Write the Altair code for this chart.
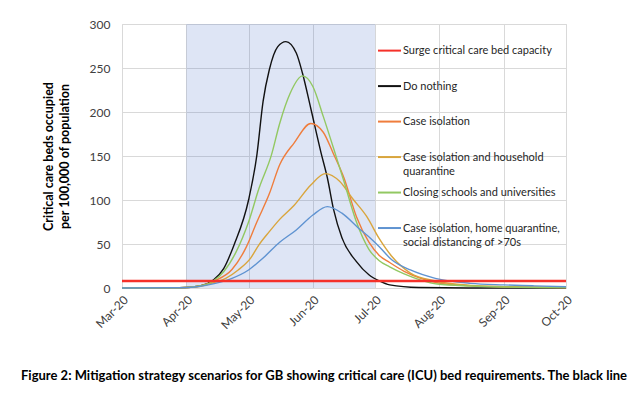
import altair as alt
import pandas as pd

# ---- series names, colours ----
series_names = [
    "Surge critical care bed capacity",
    "Do nothing",
    "Case isolation",
    "Case isolation and household quarantine",
    "Closing schools and universities",
    "Case isolation, home quarantine, social distancing of >70s",
]
legend_labels = [
    "Surge critical care bed capacity",
    "Do nothing",
    "Case isolation",
    "Case isolation and household\nquarantine",
    "Closing schools and universities",
    "Case isolation, home quarantine,\nsocial distancing of >70s",
]
legend_rank = [0, 1, 2, 3, 4, 5]
series_colors = ["#f5312a", "#111111", "#ef7d3c", "#d9a53c", "#92c862", "#5f93d1"]

# ---- data (critical care beds per 100,000) ----
surge_dates = ["2020-03-01", "2020-10-01"]
surge_vals = [8, 8]

nothing_dates = ["2020-03-01", "2020-03-25", "2020-04-01", "2020-04-08", "2020-04-14", "2020-04-19",
                 "2020-04-24", "2020-05-01", "2020-05-05", "2020-05-08", "2020-05-11", "2020-05-15",
                 "2020-05-19", "2020-05-24", "2020-05-27", "2020-05-31", "2020-06-05", "2020-06-08",
                 "2020-06-11", "2020-06-15", "2020-06-22", "2020-06-28", "2020-07-03", "2020-07-08",
                 "2020-07-22", "2020-08-15", "2020-10-01"]
nothing_vals = [0, 0.2, 0.6, 2.5, 9, 22, 49, 100, 151, 212, 248, 274, 280, 267, 244, 204, 153, 125,
                89, 57, 30, 15, 8, 3.5, 0.5, 0, 0]

caseiso_dates = ["2020-03-01", "2020-03-25", "2020-04-01", "2020-04-08", "2020-04-15", "2020-04-23",
                 "2020-04-30", "2020-05-05", "2020-05-11", "2020-05-16", "2020-05-23", "2020-05-31",
                 "2020-06-06", "2020-06-11", "2020-06-16", "2020-06-22", "2020-06-28", "2020-07-03",
                 "2020-07-08", "2020-07-15", "2020-07-23", "2020-07-31", "2020-08-16", "2020-09-01",
                 "2020-10-01"]
caseiso_vals = [0, 0.2, 0.6, 2.5, 8.5, 21, 47, 75, 107, 140, 165, 187, 177, 152, 125, 81, 52, 37,
                29, 19, 11, 6, 2.5, 1.5, 0.5]

household_dates = ["2020-03-01", "2020-03-25", "2020-04-01", "2020-04-08", "2020-04-14", "2020-04-20",
                   "2020-04-26", "2020-05-02", "2020-05-06", "2020-05-11", "2020-05-16", "2020-05-23",
                   "2020-05-31", "2020-06-07", "2020-06-14", "2020-06-20", "2020-06-27", "2020-07-03",
                   "2020-07-09", "2020-07-18", "2020-07-30", "2020-08-16", "2020-09-01", "2020-10-01"]
household_vals = [0, 0.2, 0.5, 2, 6, 11, 20.5, 34, 49, 64, 78, 94, 117, 130, 121, 102, 81, 56,
                  36, 17, 8, 3, 1.5, 0.5]

schools_dates = ["2020-03-01", "2020-03-25", "2020-04-01", "2020-04-08", "2020-04-14", "2020-04-19",
                 "2020-04-25", "2020-05-01", "2020-05-06", "2020-05-12", "2020-05-16", "2020-05-21",
                 "2020-05-27", "2020-06-01", "2020-06-06", "2020-06-12", "2020-06-16", "2020-06-22",
                 "2020-06-28", "2020-07-03", "2020-07-08", "2020-07-15", "2020-07-23", "2020-07-31",
                 "2020-08-16", "2020-09-01", "2020-10-01"]
schools_vals = [0, 0.2, 0.6, 2.5, 8, 18.5, 41, 75, 113, 151, 187, 221, 241, 229, 195, 151, 121, 75,
                44, 31, 24, 16, 9, 4.5, 2.3, 1.2, 0.5]

distancing_dates = ["2020-03-01", "2020-03-25", "2020-04-01", "2020-04-06", "2020-04-15", "2020-04-23",
                    "2020-05-01", "2020-05-08", "2020-05-16", "2020-05-24", "2020-06-01", "2020-06-08",
                    "2020-06-15", "2020-06-23", "2020-06-29", "2020-07-03", "2020-07-09", "2020-07-18",
                    "2020-07-30", "2020-08-16", "2020-09-01", "2020-09-15", "2020-10-01"]
distancing_vals = [0, 0.2, 0.6, 1.5, 5.3, 11, 20.5, 34, 52, 66, 83, 92.5, 85, 68, 56, 47, 32, 20.5,
                   11, 5.3, 3.5, 2.5, 1.5]

# shaded intervention period
shade_start = ["2020-04-01"]
shade_end = ["2020-07-01"]

month_ticks = [3, 4, 5, 6, 7, 8, 9, 10]
y_ticks = [0, 50, 100, 150, 200, 250, 300]

caption = ("Figure 2: Mitigation strategy scenarios for GB showing critical care (ICU) bed "
           "requirements. The black line")

# ---- assemble long table (surge line last so it draws on top) ----
series_data = [
    (series_names[1], nothing_dates, nothing_vals),
    (series_names[2], caseiso_dates, caseiso_vals),
    (series_names[3], household_dates, household_vals),
    (series_names[4], schools_dates, schools_vals),
    (series_names[5], distancing_dates, distancing_vals),
    (series_names[0], surge_dates, surge_vals),
]
rows = []
for name, dates, vals in series_data:
    for d, v in zip(dates, vals):
        rows.append({"series": name, "date": d, "value": v})
df = pd.DataFrame(rows)
shade_df = pd.DataFrame({"start": shade_start, "end": shade_end})
legend_df = pd.DataFrame({"series": series_names, "label": legend_labels, "rank": legend_rank})

FONT = "Lato"
x_scale = alt.Scale(
    type="utc",
    domain=[alt.DateTime(year=2020, month=3, date=1, utc=True),
            alt.DateTime(year=2020, month=10, date=1, utc=True)],
)
color_scale = alt.Scale(domain=series_names, range=series_colors)

shade = alt.Chart(shade_df).mark_rect(color="#3a63c4", opacity=0.17).encode(
    x=alt.X("start:T", scale=x_scale, title=None),
    x2="end:T",
)

lines = alt.Chart(df).mark_line(interpolate="monotone").encode(
    x=alt.X(
        "date:T",
        scale=x_scale,
        title=None,
        axis=alt.Axis(
            values=[alt.DateTime(year=2020, month=m, date=1, utc=True) for m in month_ticks],
            format="%b-%y",
            labelAngle=-45,
            labelFont=FONT,
            labelFontSize=12,
            labelColor="#404040",
            labelPadding=6,
            ticks=False,
            domain=False,
            grid=True,
            gridColor="#d9d9d9",
        ),
    ),
    y=alt.Y(
        "value:Q",
        scale=alt.Scale(domain=[0, 300], nice=False),
        title=["Critical care beds occupied", "per 100,000 of population"],
        axis=alt.Axis(
            values=y_ticks,
            labelFont=FONT,
            labelFontSize=12,
            labelColor="#404040",
            labelPadding=12,
            ticks=False,
            domain=False,
            gridColor="#d9d9d9",
            titleFont=FONT,
            titleFontSize=12.5,
            titleFontWeight="bold",
            titleColor="#000000",
            titleLineHeight=16,
            titlePadding=18,
        ),
    ),
    color=alt.Color("series:N", scale=color_scale, legend=None),
    strokeWidth=alt.condition(
        alt.datum.series == series_names[0], alt.value(2.5), alt.value(1.4)
    ),
)

# ---- legend drawn inside the plot area, one row per series ----
legend_y = alt.Y("rank:Q", scale=alt.Scale(domain=[-0.75, 6.69], range=[0, 264]), axis=None)

legend_symbols = alt.Chart(legend_df).mark_rule(strokeWidth=2).encode(
    x=alt.value(256),
    x2=alt.value(279),
    y=legend_y,
    color=alt.Color("series:N", scale=color_scale, legend=None),
)

legend_text = alt.Chart(legend_df).mark_text(
    align="left",
    baseline="alphabetic",
    dy=3.5,
    lineBreak="\n",
    lineHeight=14,
    font=FONT,
    fontSize=11,
    color="#262626",
).encode(
    x=alt.value(281),
    y=legend_y,
    text="label:N",
)

chart = alt.layer(shade, lines, legend_symbols, legend_text).resolve_scale(
    y="independent"
).properties(
    width=444,
    height=264,
    autosize=alt.AutoSizeParams(type="none"),
    padding={"left": 114, "top": 16, "right": 66, "bottom": 97},
    title=alt.TitleParams(
        text=caption,
        orient="bottom",
        anchor="start",
        frame="group",
        dx=-101,
        offset=39,
        font=FONT,
        fontSize=13,
        fontWeight="bold",
        color="#000000",
    ),
).configure_view(stroke=None).configure(background="white")

chart.save("out.html", embed_options={"renderer": "svg", "actions": False})
